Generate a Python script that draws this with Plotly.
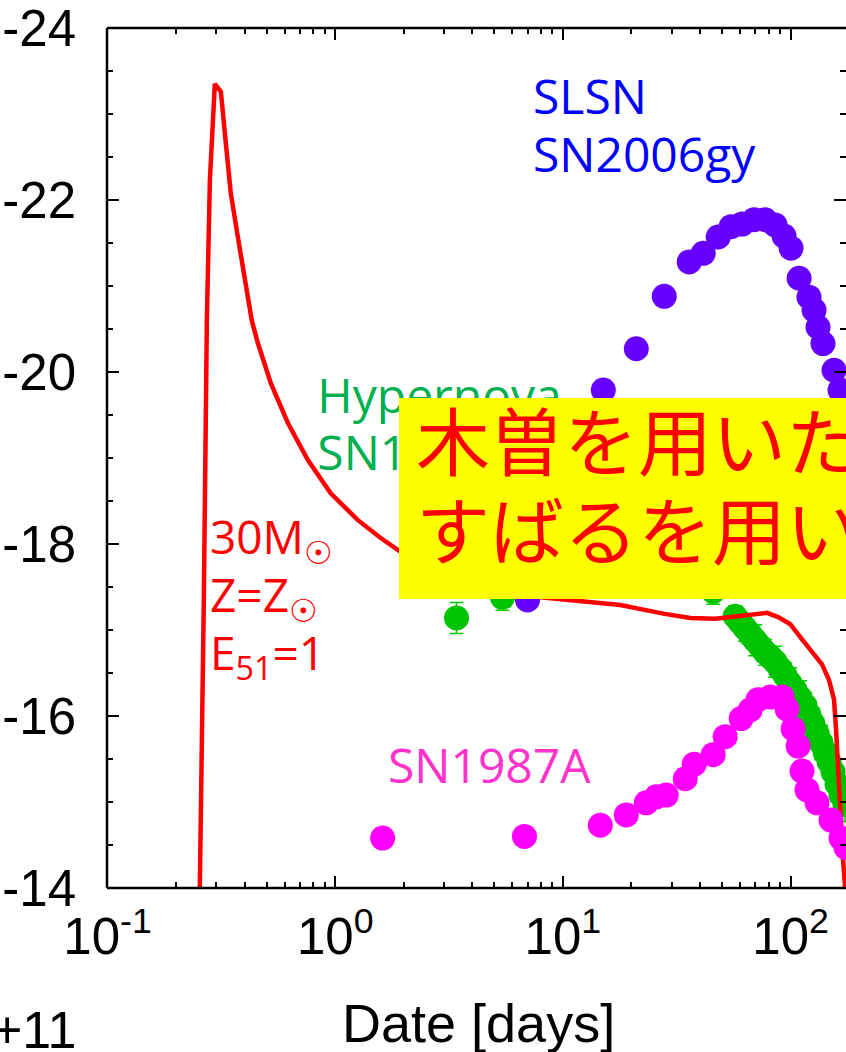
import plotly.graph_objects as go

# ---------------- data ----------------
# Model light curve: 30 Msun, Z=Zsun, E51=1
model_t = [0.2532, 0.2544, 0.2649, 0.2731, 0.2816, 0.2961, 0.3147, 0.3309, 0.3479,
           0.3736, 0.3969, 0.4302, 0.4571, 0.5213, 0.6190, 0.7575, 0.9556, 1.2551,
           1.5834, 1.9377, 3.211, 5.32, 7.966, 11.93, 17.87, 27.59, 36.25, 46.66,
           60.05, 78.86, 88.13, 99.5, 110.1, 125.5, 137.4, 147.5, 155.2, 158.4,
           161.6, 164.9, 170.0, 175.1]
model_mag = [-13.63, -14.0, -17.35, -20.60, -22.23, -23.35, -23.26, -22.66, -22.08,
             -21.57, -21.15, -20.60, -20.34, -19.87, -19.41, -18.98, -18.59, -18.28,
             -18.07, -17.91, -17.66, -17.49, -17.38, -17.34, -17.29, -17.19, -17.14,
             -17.13, -17.17, -17.20, -17.15, -17.07, -16.92, -16.74, -16.60, -16.42,
             -16.19, -15.84, -15.37, -14.91, -14.33, -13.86]

# Hypernova SN1998bw
sn98_t = [3.41, 5.43, 45.7, 57.1, 60.05, 63.15, 66.44, 69.88, 73.50, 77.30, 81.30,
          85.51, 89.92, 94.60, 99.49, 104.6, 110.1, 115.8, 120.5, 125.5, 130.7,
          136.1, 141.7, 147.5, 153.6, 159.9, 166.5, 173.4]
sn98_mag = [-17.14, -17.38, -17.45, -17.16, -17.09, -17.02, -16.95, -16.88, -16.81,
            -16.74, -16.69, -16.63, -16.55, -16.47, -16.38, -16.30, -16.21, -16.12,
            -16.01, -15.91, -15.80, -15.69, -15.58, -15.47, -15.35, -15.21, -15.08,
            -14.97]
sn98_err = [0.18, 0.15, 0.15, 0.12, 0.12, 0.15, 0.12, 0.18, 0.12, 0.15, 0.12, 0.18,
            0.12, 0.15, 0.18, 0.12, 0.2, 0.15, 0.12, 0.18, 0.15, 0.2, 0.15, 0.18,
            0.15, 0.2, 0.18, 0.2]

# SLSN SN2006gy
sn06_t = [6.99, 15.05, 21.01, 27.87, 35.87, 41.33, 48.08, 54.83, 61.28, 69.18, 77.3,
          85.5, 93.6, 100.5, 109.0, 120.5, 126.8, 132.0, 138.8, 155.2, 164.9, 173.4]
sn06_mag = [-17.35, -19.79, -20.27, -20.88, -21.28, -21.38, -21.57, -21.69, -21.72,
            -21.77, -21.77, -21.71, -21.58, -21.44, -21.09, -20.87, -20.72, -20.52,
            -20.33, -20.02, -19.79, -19.56]

# SN1987A
sn87_t = [1.616, 6.78, 14.60, 18.99, 23.24, 25.71, 28.44, 34.45, 37.74, 45.72, 51.6,
          60.67, 66.44, 72.0, 81.3, 91.8, 96.5, 102.6, 107.9, 112.3, 118.1, 130.7,
          150.5, 166.5, 175.1]
sn87_mag = [-14.58, -14.60, -14.73, -14.85, -14.99, -15.06, -15.08, -15.27, -15.44,
            -15.55, -15.76, -15.97, -16.07, -16.19, -16.22, -16.22, -16.08, -15.85,
            -15.65, -15.36, -15.14, -14.99, -14.79, -14.58, -14.47]

# Hypernova label (data coordinates of the label lines)
hn_label = ["Hypernova", "SN1998bw"]
hn_label_t = [0.835, 0.835]
hn_label_mag = [-19.66, -19.00]

x_tickvals = [0.1, 1, 10, 100]
x_ticktext = ["10<sup>-1</sup>", "10<sup>0</sup>", "10<sup>1</sup>", "10<sup>2</sup>"]
y_tickvals = [-24, -22, -20, -18, -16, -14]
y_ticktext = ["-24", "-22", "-20", "-18", "-16", "-14"]

# ---------------- figure ----------------
W, H = 846, 1052
ML, MR, MT, MB = 107, 0, 28, 164
PW, PH = W - ML - MR, H - MT - MB


def px(xp):
    return (xp - ML) / PW


def py(yp):
    return (H - MB - yp) / PH


TICKFONT = "Liberation Sans Narrow, Arial Narrow, Liberation Sans, Arial, sans-serif"
LABFONT = "Open Sans, Noto Sans, sans-serif"

fig = go.Figure()
fig.add_trace(go.Scatter(
    x=sn98_t, y=sn98_mag, mode="markers",
    marker=dict(size=25, color="#00c400"),
    error_y=dict(type="data", array=sn98_err, color="#00cc00", thickness=1.5, width=7),
    hoverinfo="skip"))
fig.add_trace(go.Scatter(
    x=model_t, y=model_mag, mode="lines",
    line=dict(color="#ff0000", width=4.5), hoverinfo="skip"))
fig.add_trace(go.Scatter(
    x=sn06_t, y=sn06_mag, mode="markers",
    marker=dict(size=25, color="#6600ff"), hoverinfo="skip"))
fig.add_trace(go.Scatter(
    x=sn87_t, y=sn87_mag, mode="markers",
    marker=dict(size=25, color="#ff00ff"), hoverinfo="skip"))
fig.add_trace(go.Scatter(
    x=hn_label_t, y=hn_label_mag, mode="text", text=hn_label,
    textposition="middle right",
    textfont=dict(family=LABFONT, size=48, color="#00b050"), hoverinfo="skip"))

minor_x = [k * 10 ** e for e in (-1, 0, 1, 2) for k in range(2, 10)]

fig.update_layout(
    width=W, height=H,
    margin=dict(l=ML, r=MR, t=MT, b=MB, pad=0),
    plot_bgcolor="white", paper_bgcolor="white",
    showlegend=False,
)
fig.update_xaxes(
    type="log", range=[-1.0022, 2.2434],
    tickmode="array", tickvals=x_tickvals, ticktext=x_ticktext,
    ticks="inside", ticklen=12, tickwidth=2, tickcolor="black",
    showline=False, mirror="ticks", showgrid=False, zeroline=False,
    minor=dict(tickmode="array", tickvals=minor_x, ticks="inside", ticklen=6,
               tickwidth=2, tickcolor="black", showgrid=False),
    tickfont=dict(family=TICKFONT, size=51, color="black"),
    ticklabelstandoff=14, ticklabeloverflow="allow",
)
fig.update_yaxes(
    range=[-14, -24],
    tickmode="array", tickvals=y_tickvals, ticktext=y_ticktext,
    ticks="inside", ticklen=12, tickwidth=2, tickcolor="black",
    showline=False, mirror="ticks", showgrid=False, zeroline=False,
    minor=dict(dtick=0.5, ticks="inside", ticklen=6, tickwidth=2,
               tickcolor="black", showgrid=False),
    tickfont=dict(family=TICKFONT, size=51, color="black"),
    ticklabelstandoff=30, ticklabeloverflow="allow",
)

# axis frame lines (left, bottom, top)
for x0, y0, x1, y1 in [(0, 0, 0, 1), (0, 0, 1, 0), (0, 1, 1, 1)]:
    fig.add_shape(type="line", xref="paper", yref="paper", x0=x0, y0=y0, x1=x1, y1=y1,
                  line=dict(color="black", width=2.5), layer="above")

# yellow box (covers part of the plot)
fig.add_shape(type="rect", xref="paper", yref="paper",
              x0=px(399), x1=px(1000), y0=py(599), y1=py(398),
              fillcolor="#ffff00", line=dict(width=0), layer="above")


def ann(text, x, y, size, color, family=LABFONT, xanchor="left", yanchor="middle"):
    fig.add_annotation(text=text, xref="paper", yref="paper", x=px(x), y=py(y),
                       xanchor=xanchor, yanchor=yanchor, showarrow=False,
                       font=dict(family=family, size=size, color=color),
                       borderpad=0, borderwidth=0)


ann("SLSN", 533, 96, 48, "#0000ff")
ann("SN2006gy", 533, 154, 48, "#0000ff")
ann("30M<sub>☉</sub>", 210, 539, 46, "#ff0000")
ann("Z=Z<sub>☉</sub>", 210, 597, 46, "#ff0000")
ann("E<sub>51</sub>=1", 210, 655, 46, "#ff0000")
ann("SN1987A", 388, 764, 48, "#ff33cc")
ann("木曽を用いた観測", 416, 437, 74, "#ff0000", family="Noto Sans CJK JP")
ann("すばるを用いた観測", 416, 526, 74, "#ff0000", family="Noto Sans CJK JP")
ann("Date [days]", 478, 1023, 54, "black", family=TICKFONT, xanchor="center")
ann("+11", 76, 1030, 52, "black", family=TICKFONT, xanchor="right")

fig.write_html("out.html")
